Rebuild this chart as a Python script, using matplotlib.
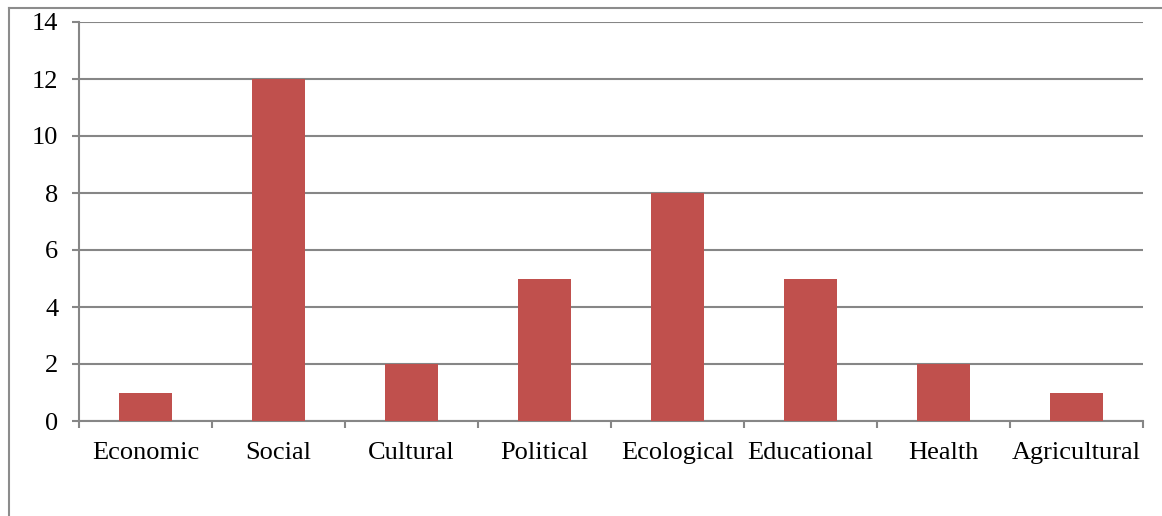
import matplotlib.pyplot as plt
from matplotlib.lines import Line2D
import numpy as np

categories = ["Economic", "Social", "Cultural", "Political",
              "Ecological", "Educational", "Health", "Agricultural"]
counts = [1, 12, 2, 5, 8, 5, 2, 1]
yticks = [0, 2, 4, 6, 8, 10, 12, 14]

plt.rcParams["font.family"] = ["Liberation Serif", "DejaVu Serif"]
grey = "#868686"

fig = plt.figure(figsize=(11.62, 5.16), dpi=100)
ax = fig.add_axes([79 / 1162, 95 / 516, 1064 / 1162, 399 / 516])

x = np.arange(len(categories))
ax.bar(x, counts, width=0.4, color="#C0504D", zorder=3)

ax.set_xlim(-0.5, len(categories) - 0.5)
ax.set_ylim(0, 14)
ax.set_yticks(yticks)
ax.set_yticklabels([str(v) for v in yticks], fontsize=19)
ax.set_xticks(x)
ax.set_xticklabels(categories, fontsize=19)
ax.set_xticks(np.arange(len(categories) + 1) - 0.5, minor=True)

ax.grid(axis="y", color=grey, linewidth=1.5, zorder=0)
ax.tick_params(axis="x", which="major", length=0, pad=15)
ax.tick_params(axis="x", which="minor", length=5, width=1.5, color=grey)
ax.tick_params(axis="y", length=5, width=1.5, color=grey, pad=10)

for side in ["top", "right"]:
    ax.spines[side].set_visible(False)
for side in ["left", "bottom"]:
    ax.spines[side].set_color(grey)
    ax.spines[side].set_linewidth(1.5)

# outer chart frame (left and top edges)
fx = 8.5 / 1162
fy = 1 - 7.5 / 516
fig.add_artist(Line2D([fx, fx], [0, fy], color="#8c8c8c", linewidth=1.5,
                      transform=fig.transFigure))
fig.add_artist(Line2D([fx, 1], [fy, fy], color="#8c8c8c", linewidth=1.5,
                      transform=fig.transFigure))

fig.savefig("out.png", dpi=100)
